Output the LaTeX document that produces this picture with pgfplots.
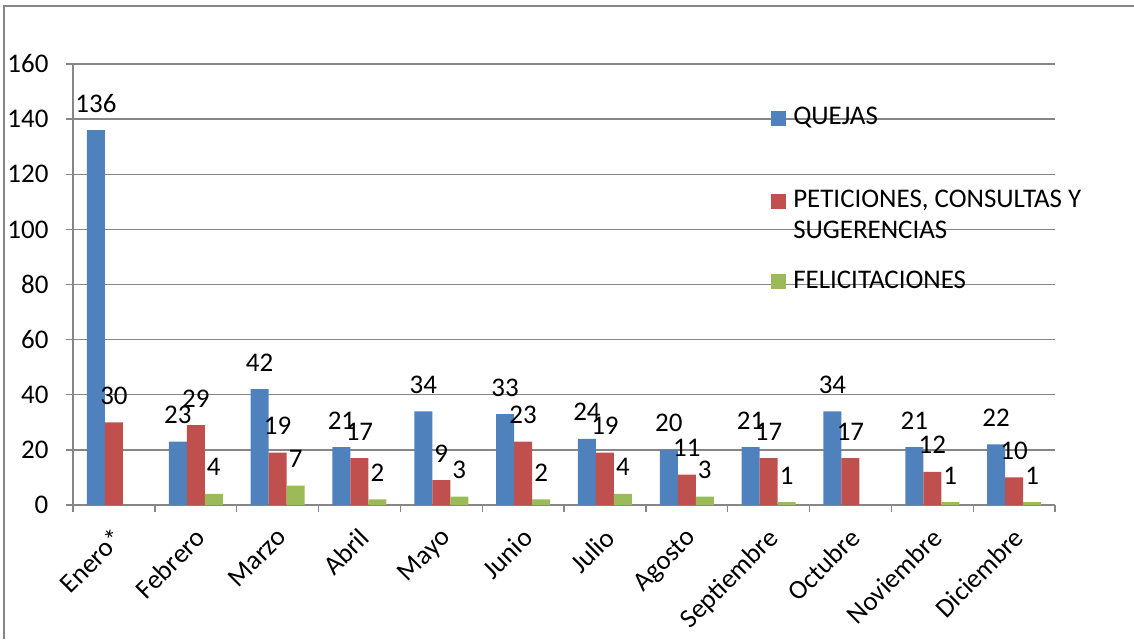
\documentclass[border=0pt]{standalone}
\usepackage{fontspec}
\setmainfont{Carlito}
\usepackage{pgfplots}
\pgfplotsset{compat=1.18}
\definecolor{qblue}{RGB}{79,129,189}
\definecolor{qred}{RGB}{192,80,77}
\definecolor{qgreen}{RGB}{155,187,89}
\definecolor{qgrid}{RGB}{134,134,134}
\pgfplotsset{
  sqleg/.style={legend image code/.code={\path[fill=none,draw=none] (0pt,-#1) rectangle (11.25pt,12pt);\fill[##1] (0pt,-0.75pt) rectangle (11.25pt,10.5pt);}}
}
\begin{document}
\begin{tikzpicture}[font=\fontsize{20.2}{22.75}\selectfont]
\useasboundingbox (-54.75pt,-100.5pt) rectangle (795.75pt,378.75pt);
\begin{axis}[
  at={(0,0)}, anchor=south west,
  scale only axis,
  width=736.5pt, height=330.75pt,
  /pgf/number format/assume math mode=true,
  ybar=0pt, bar width=13.5pt,
  xmin=-0.5, xmax=11.5,
  ymin=0, ymax=160,
  ytick={0,20,...,160},
  xtick={-0.5,0.5,...,11.5},
  x tick label as interval,
  xticklabels={Enero*,Febrero,Marzo,Abril,Mayo,Junio,Julio,Agosto,Septiembre,Octubre,Noviembre,Diciembre},
  axis lines*=left,
  axis line style={qgrid, line width=1pt},
  tick align=outside,
  major tick length=5.5pt,
  tick style={qgrid, line width=1pt},
  ymajorgrids,
  grid style={qgrid, line width=1pt},
  yticklabel style={inner sep=0pt},
  yticklabel shift=12.75pt,
  xticklabel style={xshift=-1.5pt, yshift=-10.5pt, rotate=45, anchor=north east, inner sep=0pt},
  clip=false,
  nodes near coords,
  every node near coord/.append style={anchor=base, inner sep=0pt, yshift=13.5pt, text=black},
  legend style={draw=none, fill=none, inner sep=0pt, row sep=0pt, column sep=5.25pt,
    at={(0.7108,0.9025)}, anchor=north west,
    cells={anchor=base west, inner sep=0pt},
    nodes={inner sep=0pt}},
]
\addplot[fill=qblue, draw=none, sqleg=46.5pt] coordinates {(0,136) (1,23) (2,42) (3,21) (4,34) (5,33) (6,24) (7,20) (8,21) (9,34) (10,21) (11,22)};
\addlegendentry{QUEJAS}
\addplot[fill=qred, draw=none, sqleg=47.25pt] coordinates {(0,30) (1,29) (2,19) (3,17) (4,9) (5,23) (6,19) (7,11) (8,17) (9,17) (10,12) (11,10)};
\addlegendentry{\begin{tabular}[t]{@{}l@{}}PETICIONES, CONSULTAS Y\\SUGERENCIAS\end{tabular}}
\addplot[fill=qgreen, draw=none, sqleg=0.75pt] coordinates {(1,4) (2,7) (3,2) (4,3) (5,2) (6,4) (7,3) (8,1) (10,1) (11,1)};
\addlegendentry{FELICITACIONES}
\end{axis}
\draw[qgrid, line width=1pt] (-51.75pt,-100.5pt) -- (-51.75pt,374.25pt) -- (795.75pt,374.25pt);
\end{tikzpicture}
\end{document}
